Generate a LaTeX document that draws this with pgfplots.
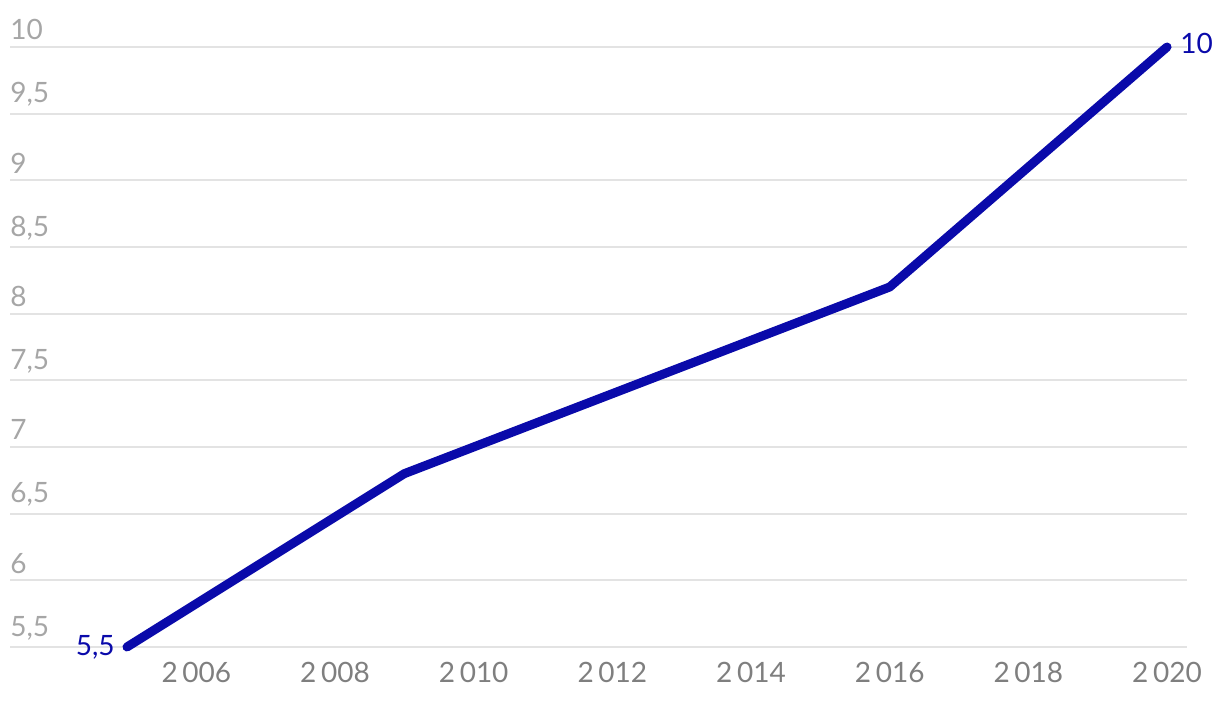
\documentclass[border=0pt]{standalone}
\usepackage{fontspec}
\setmainfont{Lato}
\usepackage{pgfplots}
\pgfplotsset{compat=1.18}
\definecolor{lineblue}{HTML}{0A0AAA}
\definecolor{gridgray}{HTML}{E3E3E3}
\definecolor{ylab}{HTML}{A6A6A6}
\definecolor{xlab}{HTML}{7F7F7F}
\begin{document}
\begin{tikzpicture}
\useasboundingbox (-5pt,-28.5pt) rectangle (605pt,323.5pt);
\begin{axis}[
    scale only axis,
    width=588.5pt, height=300pt,
    xmin=2003.3125, xmax=2020.288,
    ymin=5.5, ymax=10,
    xtick={2006,2008,...,2020},
    ytick={5.5,6,...,10},
    ymajorgrids,
    grid style={gridgray, line width=1pt},
    axis line style={draw=none},
    tick style={draw=none},
    clip=false,
    /pgf/number format/assume math mode=true,
    xticklabel style={/pgf/number format/1000 sep={\,}, color=xlab, font=\fontsize{14}{16}\selectfont, yshift=-4pt},
    yticklabel style={/pgf/number format/.cd, fixed, use comma, 1000 sep={},
        /tikz/.cd, anchor=south west, inner xsep=0pt, yshift=0pt, color=ylab, font=\fontsize{14}{16}\selectfont},
    yticklabel={\pgfmathprintnumber{\tick}},
]
\addplot[lineblue, line width=4.5pt, line cap=round, line join=round]
    coordinates {(2005,5.5) (2009,6.8) (2016,8.2) (2020,10)};
\addplot[draw=none, nodes near coords, point meta=explicit symbolic,
    nodes near coords style={anchor=east, color=lineblue, font=\fontsize{14}{16}\selectfont, inner xsep=6pt, yshift=0pt}]
    coordinates {(2005,5.5) [5,5]};
\addplot[draw=none, nodes near coords, point meta=explicit symbolic,
    nodes near coords style={anchor=west, color=lineblue, font=\fontsize{14}{16}\selectfont, inner xsep=6.5pt, yshift=2pt}]
    coordinates {(2020,10) [10]};
\end{axis}
\end{tikzpicture}
\end{document}
